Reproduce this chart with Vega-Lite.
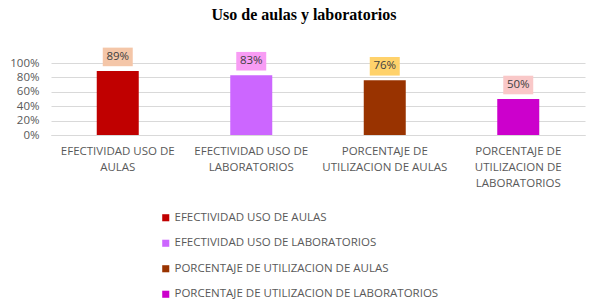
{
  "$schema": "https://vega.github.io/schema/vega-lite/v6.json",
  "width": 534,
  "height": 72,
  "autosize": {"type": "none"},
  "padding": {"left": 51, "top": 63, "right": 21, "bottom": 167},
  "background": "white",
  "title": {
    "text": "Uso de aulas y laboratorios",
    "font": "Liberation Serif",
    "fontSize": 16,
    "fontWeight": "bold",
    "color": "#000000",
    "anchor": "middle",
    "frame": "group",
    "dx": -14,
    "offset": 25
  },
  "data": {
    "values": [
      {"cat": "EFECTIVIDAD USO DE AULAS", "value": 0.89},
      {"cat": "EFECTIVIDAD USO DE LABORATORIOS", "value": 0.83},
      {"cat": "PORCENTAJE DE UTILIZACION DE AULAS", "value": 0.76},
      {"cat": "PORCENTAJE DE UTILIZACION DE LABORATORIOS", "value": 0.50}
    ]
  },
  "encoding": {
    "x": {
      "field": "cat",
      "type": "nominal",
      "sort": null,
      "scale": {"paddingInner": 0, "paddingOuter": 0},
      "axis": {
        "title": null,
        "labelAngle": 0,
        "labelFont": "Open Sans",
        "labelFontSize": 11.5,
        "labelColor": "#595959",
        "labelPadding": 10,
        "labelLineHeight": 16,
        "labelBaseline": "top",
        "labelLimit": 300,
        "ticks": false,
        "domainColor": "#D9D9D9",
        "labelExpr": "datum.value == 'EFECTIVIDAD USO DE AULAS' ? ['EFECTIVIDAD USO DE', 'AULAS'] : datum.value == 'EFECTIVIDAD USO DE LABORATORIOS' ? ['EFECTIVIDAD USO DE', 'LABORATORIOS'] : datum.value == 'PORCENTAJE DE UTILIZACION DE AULAS' ? ['PORCENTAJE DE', 'UTILIZACION DE AULAS'] : ['PORCENTAJE DE', 'UTILIZACION DE', 'LABORATORIOS']"
      }
    },
    "y": {
      "field": "value",
      "type": "quantitative",
      "scale": {"domain": [0, 1], "nice": false},
      "axis": {
        "title": null,
        "format": ".0%",
        "values": [0, 0.2, 0.4, 0.6, 0.8, 1.0],
        "labelFont": "Open Sans",
        "labelFontSize": 11.5,
        "labelColor": "#595959",
        "labelPadding": 12,
        "ticks": false,
        "domain": false,
        "gridColor": "#D9D9D9"
      }
    }
  },
  "layer": [
    {
      "mark": {"type": "bar", "width": 42},
      "encoding": {
        "color": {
          "field": "cat",
          "type": "nominal",
          "sort": null,
          "scale": {"range": ["#C00000", "#CC66FF", "#993300", "#CC00CC"]},
          "legend": {
            "title": null,
            "orient": "none",
            "legendX": 109,
            "legendY": 149,
            "direction": "vertical",
            "symbolType": "square",
            "symbolSize": 50,
            "symbolStrokeWidth": 0,
            "labelFont": "Open Sans",
            "labelFontSize": 11.5,
            "labelColor": "#595959",
            "labelOffset": 3,
            "labelLimit": 400,
            "rowPadding": 12.5
          }
        }
      }
    },
    {
      "mark": {
        "type": "point",
        "shape": "M-1,-0.62L1,-0.62L1,0.62L-1,0.62Z",
        "filled": true,
        "opacity": 1,
        "strokeWidth": 0,
        "size": 900,
        "yOffset": -14
      },
      "encoding": {
        "fill": {
          "field": "cat",
          "type": "nominal",
          "sort": null,
          "scale": {"range": ["#F4C6A8", "#F89CF4", "#FFD26B", "#F9C8C8"]},
          "legend": null
        }
      }
    },
    {
      "mark": {
        "type": "text",
        "yOffset": -14,
        "font": "Open Sans",
        "fontSize": 11.5,
        "color": "#404040"
      },
      "encoding": {
        "text": {"field": "value", "type": "quantitative", "format": ".0%"}
      }
    }
  ],
  "config": {
    "view": {"stroke": null}
  }
}
